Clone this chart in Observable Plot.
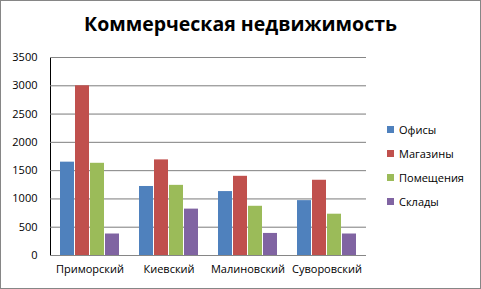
<!DOCTYPE html>
<html>
<head>
<meta charset="utf-8">
<script src="https://cdn.jsdelivr.net/npm/d3@7"></script>
<script src="https://cdn.jsdelivr.net/npm/@observablehq/plot@0.6"></script>
<style>
  html, body { margin: 0; padding: 0; background: #fff; }
  #chart { position: relative; width: 481px; height: 289px; box-sizing: border-box; border: 1px solid #868686; overflow: hidden; font-family: "Open Sans", sans-serif; }
  #title { position: absolute; left: 0; width: 100%; top: 9px; text-align: center; font-weight: bold; font-size: 19.5px; color: #000; }
  #plot { position: absolute; left: -1px; top: 45px; }
  #legend { position: absolute; left: 386px; top: 116px; font-size: 11px; color: #000; }
  .row { height: 24px; display: flex; align-items: center; }
  .sw { width: 7px; height: 7px; margin-right: 5px; }
</style>
</head>
<body>
<div id="chart">
  <div id="title">Коммерческая недвижимость</div>
  <div id="plot"></div>
  <div id="legend"></div>
</div>
<script>
const categories = ["Приморский", "Киевский", "Малиновский", "Суворовский"];
const series = ["Офисы", "Магазины", "Помещения", "Склады"];
const offices = [1650, 1220, 1130, 970];
const shops = [3000, 1690, 1400, 1330];
const premises = [1630, 1240, 870, 730];
const warehouses = [380, 820, 390, 380];
const colors = ["#4F81BD", "#C0504D", "#9BBB59", "#8064A2"];
const yTicks = [0, 500, 1000, 1500, 2000, 2500, 3000, 3500];

const seriesValues = [offices, shops, premises, warehouses];
const data = [];
categories.forEach((c, i) => {
  series.forEach((s, j) => data.push({category: c, series: s, value: seriesValues[j][i]}));
});

const plot = Plot.plot({
  width: 367,
  height: 239,
  marginLeft: 49,
  marginRight: 0,
  marginTop: 11,
  marginBottom: 30,
  style: {fontFamily: "'Open Sans', sans-serif", fontSize: "11px", color: "#000", background: "transparent"},
  fx: {domain: categories, padding: 0, axis: "bottom", label: null, tickSize: 0, tickPadding: 10},
  x: {domain: series, paddingInner: 0.07, paddingOuter: 0.65, axis: null},
  y: {domain: [0, 3500], ticks: yTicks, tickFormat: d3.format("d"), grid: true, label: null, tickSize: 0, tickPadding: 13, line: true},
  color: {domain: series, range: colors},
  facet: {data, x: "category"},
  marks: [
    Plot.ruleY(yTicks, {stroke: "#868686", strokeOpacity: 1}),
    Plot.barY(data, {x: "series", y: "value", fill: "series"}),
    Plot.ruleY([0], {stroke: "#868686"})
  ]
});
document.getElementById("plot").appendChild(plot);

const legend = document.getElementById("legend");
series.forEach((s, j) => {
  const row = document.createElement("div");
  row.className = "row";
  const sw = document.createElement("div");
  sw.className = "sw";
  sw.style.background = colors[j];
  const t = document.createElement("span");
  t.textContent = s;
  row.appendChild(sw);
  row.appendChild(t);
  legend.appendChild(row);
});
</script>
</body>
</html>
